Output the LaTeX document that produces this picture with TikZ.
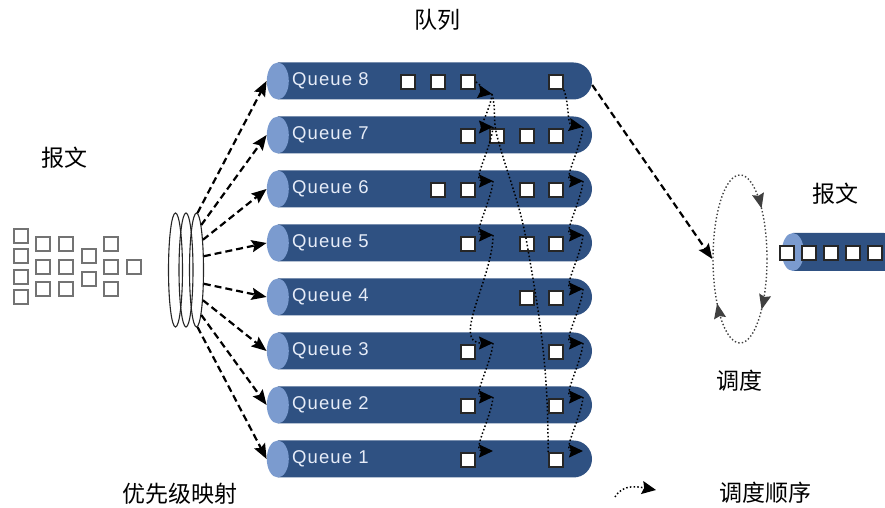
\documentclass[tikz,border=0pt]{standalone}
\usepackage{fontspec}
\setmainfont{Liberation Sans}
\newfontfamily\cjk{Noto Sans CJK SC}
\newfontfamily\qfont[LetterSpace=6]{Liberation Sans}
\usepackage{tikz}
\usetikzlibrary{arrows.meta, positioning, shapes.geometric, shapes.misc, decorations.markings}
\definecolor{qdark}{HTML}{2F5182}
\definecolor{qlight}{HTML}{7B9BCF}
\definecolor{qtext}{HTML}{E6ECF8}
\tikzset{
  queue/.style={rounded rectangle,rounded rectangle west arc=none,fill=qdark,
    minimum width=314pt,minimum height=37pt,inner sep=0pt},
  qcap/.style={ellipse,fill=qlight,minimum width=22pt,minimum height=37pt,inner sep=0pt},
  qlabel/.style={text=qtext,inner sep=0pt,font=\qfont\fontsize{18.5}{18.5}\selectfont},
  pkt/.style={draw=black!85,fill=white,line width=1.8pt,minimum size=14pt,inner sep=0pt},
  inpkt/.style={pkt,draw=black!55,line width=2pt},
  ring/.style={ellipse,draw=black!85,line width=1.1pt,minimum width=14pt,minimum height=114pt,inner sep=0pt},
  mapedge/.style={-{Stealth[length=15pt,width=12pt,inset=2.5pt]},line width=2.2pt,dash pattern=on 7pt off 4pt},
  order/.style={-{Stealth[length=14pt,width=13pt,inset=2pt]},line width=1.5pt,dash pattern=on 1.5pt off 2.2pt,black},
  schedring/.style={ellipse,draw=black!75,line width=1.4pt,dash pattern=on 1.4pt off 2.2pt,
    minimum width=54pt,minimum height=168pt,inner sep=0pt,postaction={decorate},
    decoration={markings,
      mark=at position 0.137 with {\arrowreversed{Stealth[length=15pt,width=12pt,inset=2pt]}},
      mark=at position 0.62 with {\arrowreversed{Stealth[length=15pt,width=12pt,inset=2pt]}},
      mark=at position 0.863 with {\arrowreversed{Stealth[length=15pt,width=12pt,inset=2pt]}}}},
  cjklabel/.style={font=\cjk\fontsize{23}{23}\selectfont,inner sep=0pt},
}

\begin{document}
\begin{tikzpicture}[x=1pt,y=1pt]
  \useasboundingbox (0,0) rectangle (885,508);

  % queues
  \node[queue] (q8) at (435,427) {};
  \node[queue] (q7) at (435,373) {};
  \node[queue] (q6) at (435,319) {};
  \node[queue] (q5) at (435,265) {};
  \node[queue] (q4) at (435,211) {};
  \node[queue] (q3) at (435,157) {};
  \node[queue] (q2) at (435,103) {};
  \node[queue] (q1) at (435,49) {};
  \node[qcap] (c8) at (q8.west) {};
  \node[qcap] (c7) at (q7.west) {};
  \node[qcap] (c6) at (q6.west) {};
  \node[qcap] (c5) at (q5.west) {};
  \node[qcap] (c4) at (q4.west) {};
  \node[qcap] (c3) at (q3.west) {};
  \node[qcap] (c2) at (q2.west) {};
  \node[qcap] (c1) at (q1.west) {};
  \node[qlabel,right=3pt of c8] (l8) {Queue 8};
  \node[qlabel,right=3pt of c7] (l7) {Queue 7};
  \node[qlabel,right=3pt of c6] (l6) {Queue 6};
  \node[qlabel,right=3pt of c5] (l5) {Queue 5};
  \node[qlabel,right=3pt of c4] (l4) {Queue 4};
  \node[qlabel,right=3pt of c3] (l3) {Queue 3};
  \node[qlabel,right=3pt of c2] (l2) {Queue 2};
  \node[qlabel,right=3pt of c1] (l1) {Queue 1};

  % packets waiting in the queues
  \node[pkt] (s8a) at (408,426) {};
  \node[pkt] (s8b) at (438,426) {};
  \node[pkt] (s8c) at (468,426) {};
  \node[pkt] (s8f) at (556,426) {};
  \node[pkt] (s7c) at (468,372) {};
  \node[pkt] (s7d) at (497,372) {};
  \node[pkt] (s7e) at (527,372) {};
  \node[pkt] (s7f) at (556,372) {};
  \node[pkt] (s6b) at (438,318) {};
  \node[pkt] (s6c) at (468,318) {};
  \node[pkt] (s6e) at (527,318) {};
  \node[pkt] (s6f) at (556,318) {};
  \node[pkt] (s5c) at (468,264) {};
  \node[pkt] (s5e) at (527,264) {};
  \node[pkt] (s5f) at (556,264) {};
  \node[pkt] (s4e) at (527,210) {};
  \node[pkt] (s4f) at (556,210) {};
  \node[pkt] (s3c) at (468,156) {};
  \node[pkt] (s3f) at (556,156) {};
  \node[pkt] (s2c) at (468,102) {};
  \node[pkt] (s2f) at (556,102) {};
  \node[pkt] (s1c) at (468,48) {};
  \node[pkt] (s1f) at (556,48) {};

  % scheduling order tips
  \coordinate (t8c) at (492,414);
  \coordinate (t7c) at (493,381);
  \coordinate (t6c) at (493,327);
  \coordinate (t5c) at (493,273);
  \coordinate (t3c) at (493,165);
  \coordinate (t2c) at (493,111);
  \coordinate (t1c) at (493,57);
  \coordinate (t7f) at (583,381);
  \coordinate (t6f) at (583,327);
  \coordinate (t5f) at (583,273);
  \coordinate (t4f) at (583,219);
  \coordinate (t3f) at (583,165);
  \coordinate (t2f) at (583,111);
  \coordinate (t1f) at (583,57);
  \draw[order] (s8c.east) to[out=-30,in=170] (t8c);
  \draw[order] (t8c) to[out=-95,in=180] (t7c);
  \draw[order] (t7c) to[out=-95,in=180] (t6c);
  \draw[order] (t6c) to[out=-95,in=180] (t5c);
  \draw[order] (t5c) to[out=-90,in=180] (t3c);
  \draw[order] (t3c) to[out=-95,in=180] (t2c);
  \draw[order] (t2c) to[out=-95,in=180] (t1c);
  \draw[order,-] (t8c) to[out=-75,in=105] (s7d.center) to[out=-75,in=100] (s5e.center)
    to[out=-80,in=90] (s1f.north west);
  \draw[order] (s8f.south east) to[out=-70,in=170] (t7f);
  \draw[order] (t7f) to[out=-95,in=180] (t6f);
  \draw[order] (t6f) to[out=-95,in=180] (t5f);
  \draw[order] (t5f) to[out=-95,in=180] (t4f);
  \draw[order] (t4f) to[out=-95,in=180] (t3f);
  \draw[order] (t3f) to[out=-95,in=180] (t2f);
  \draw[order] (t2f) to[out=-95,in=180] (t1f);

  % incoming packets
  \foreach \n/\x/\y in {1/21/272, 2/21/252, 3/21/231, 4/21/211,
      5/43/264, 6/43/241, 7/43/219, 8/66/264, 9/66/241, 10/66/219,
      11/89/252, 12/89/229, 13/111/264, 14/111/241, 15/111/219, 16/134/241}
    \node[inpkt] (p\n) at (\x,\y) {};

  % priority mapping rings
  \node[ring] (r1) at (175.5,238) {};
  \node[ring] (r2) at (186,238) {};
  \node[ring] (r3) at (196.5,238) {};
  \draw[mapedge] (r3.89) -- (c8.west);
  \draw[mapedge] (r3.84) -- (c7.west);
  \draw[mapedge] (r3.78) -- (c6.west);
  \draw[mapedge] (r3.62) -- (c5.west);
  \draw[mapedge] (r3.-62) -- (c4.west);
  \draw[mapedge] (r3.-78) -- (c3.west);
  \draw[mapedge] (r3.-84) -- (c2.west);
  \draw[mapedge] (r3.-89) -- (c1.west);

  % scheduler and output
  \node[schedring] (sch) at (740,249) {};
  \draw[mapedge] ([yshift=-4pt]q8.east) -- (sch.west);
  \node[queue,minimum width=110pt,minimum height=38pt] (qout) at (848,256) {};
  \node[qcap,minimum height=38pt] (cout) at (qout.west) {};
  \node[pkt] (o1) at (787,255) {};
  \node[pkt] (o2) at (809,255) {};
  \node[pkt] (o3) at (831,255) {};
  \node[pkt] (o4) at (853,255) {};
  \node[pkt] (o5) at (875,255) {};

  % texts
  \node[cjklabel] (tq) at (437,488) {队列};
  \node[cjklabel] (tin) at (64,350) {报文};
  \node[cjklabel] (tout) at (835,314) {报文};
  \node[cjklabel] (tsch) at (739,127) {调度};
  \node[cjklabel] (tmap) at (180,14) {优先级映射};
  \node[cjklabel] (tord) at (765,15) {调度顺序};

  % legend
  \coordinate (lg0) at (615,11);
  \coordinate (lg1) at (656,18);
  \draw[order] (lg0) to[out=60,in=170] (lg1);
\end{tikzpicture}
\end{document}
